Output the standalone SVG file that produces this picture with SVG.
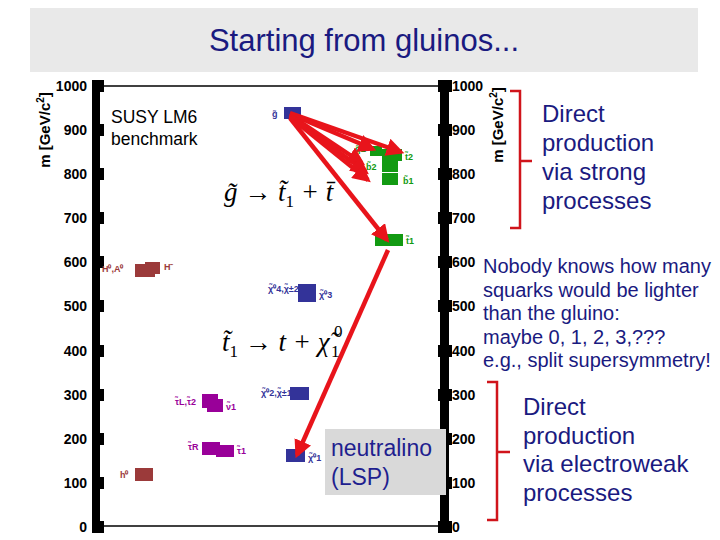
<svg xmlns="http://www.w3.org/2000/svg" width="720" height="540" viewBox="0 0 720 540">
<defs>
<style>
.s{font-family:"Liberation Sans",Arial,sans-serif}
.tk{font-family:"Liberation Sans",Arial,sans-serif;font-size:14px;font-weight:bold;fill:#000}
.eq{font-family:"Liberation Serif","Times New Roman",serif;font-size:27px;font-style:italic;fill:#000}
.sub{font-family:"Liberation Serif","Times New Roman",serif;font-size:17px;fill:#000}
.lb{font-family:"Liberation Sans",Arial,sans-serif;font-size:9px;font-weight:bold}
.arr{stroke:#e8141b;stroke-width:4.5;fill:none;marker-end:url(#ah)}
.br{stroke:#d0141b;stroke-width:2.5;fill:none}
</style>
<marker id="ah" viewBox="0 0 10 10" refX="8" refY="5" markerWidth="4" markerHeight="4" orient="auto"><path d="M0,0L10,5L0,10z" fill="#e8141b"/></marker>
</defs>
<rect width="720" height="540" fill="#fff"/>
<g id="title"><rect x="30" y="8" width="668" height="64" fill="#e9e9e9"/>
<text x="364" y="51" text-anchor="middle" class="s" font-size="31" fill="#1a1a80">Starting from gluinos...</text></g>
<g id="axes">
<line x1="98" y1="86" x2="446" y2="86" stroke="#000" stroke-width="1.5"/>
<line x1="98" y1="526" x2="446" y2="526" stroke="#000" stroke-width="1.5"/>
<rect x="92" y="82" width="8" height="450" fill="#000"/>
<rect x="440" y="82" width="9" height="450" fill="#000"/>
<g fill="#000">
<rect x="92" y="80" width="12" height="12"/><rect x="92" y="124" width="12" height="12"/><rect x="92" y="168" width="12" height="12"/><rect x="92" y="212" width="12" height="12"/><rect x="92" y="256" width="12" height="12"/><rect x="92" y="300" width="12" height="12"/><rect x="92" y="345" width="12" height="12"/><rect x="92" y="389" width="12" height="12"/><rect x="92" y="433" width="12" height="12"/><rect x="92" y="477" width="12" height="12"/><rect x="92" y="521" width="12" height="12"/>
<rect x="438" y="80" width="14" height="12"/><rect x="438" y="124" width="14" height="12"/><rect x="438" y="168" width="14" height="12"/><rect x="438" y="212" width="14" height="12"/><rect x="438" y="256" width="14" height="12"/><rect x="438" y="300" width="14" height="12"/><rect x="438" y="345" width="14" height="12"/><rect x="438" y="389" width="14" height="12"/><rect x="438" y="433" width="14" height="12"/><rect x="438" y="477" width="14" height="12"/><rect x="438" y="521" width="14" height="12"/>
</g>
<g class="tk" text-anchor="end">
<text x="87" y="91">1000</text><text x="87" y="135">900</text><text x="87" y="179">800</text><text x="87" y="223">700</text><text x="87" y="267">600</text><text x="87" y="311">500</text><text x="87" y="356">400</text><text x="87" y="400">300</text><text x="87" y="444">200</text><text x="87" y="488">100</text><text x="87" y="532">0</text>
</g>
<g class="tk">
<text x="452" y="91">1000</text><text x="452" y="135">900</text><text x="452" y="179">800</text><text x="452" y="223">700</text><text x="452" y="267">600</text><text x="452" y="311">500</text><text x="452" y="356">400</text><text x="452" y="400">300</text><text x="452" y="444">200</text><text x="452" y="488">100</text><text x="452" y="532">0</text>
</g>
<text transform="translate(50,130) rotate(-90)" text-anchor="middle" class="s" font-size="15" font-weight="bold">m [GeV/c<tspan font-size="10" dy="-6">2</tspan><tspan dy="6">]</tspan></text>
<text transform="translate(503,125) rotate(-90)" text-anchor="middle" class="s" font-size="15" font-weight="bold">m [GeV/c<tspan font-size="10" dy="-6">2</tspan><tspan dy="6">]</tspan></text>
<text x="111" y="123" class="s" font-size="17.5">SUSY LM6</text>
<text x="111" y="145" class="s" font-size="17.5">benchmark</text>
</g>
<g id="higgs" fill="#9b3a3a">
<rect x="135" y="264" width="20" height="13"/><rect x="145" y="262" width="15" height="12"/>
<text x="102" y="272" class="lb">H⁰,A⁰</text><text x="164" y="270" class="lb">H⁻</text>
<rect x="135" y="468" width="18" height="13"/><text x="120" y="478" class="lb">h⁰</text>
</g>
<g id="sleptons" fill="#990099">
<rect x="202" y="394" width="16" height="14"/><rect x="207" y="399" width="16" height="13"/>
<text x="175" y="405" class="lb">τ̃L,τ̃2</text><text x="226" y="410" class="lb" font-size="7">ν̃1</text>
<rect x="202" y="442" width="18" height="13"/><rect x="216" y="445" width="18" height="12"/>
<text x="188" y="450" class="lb">τ̃R</text><text x="237" y="454" class="lb" font-size="7">τ̃1</text>
</g>
<g id="gauginos" fill="#333399">
<rect x="284" y="107" width="17" height="12"/><text x="272" y="117" class="lb">g̃</text>
<rect x="298" y="284" width="18" height="18"/><text x="268" y="292" class="lb" font-size="8">χ̃⁰4,χ̃±2</text><text x="319" y="298" class="lb" font-size="8">χ̃⁰3</text>
<rect x="290" y="387" width="19" height="13"/><text x="261" y="396" class="lb" font-size="8">χ̃⁰2,χ̃±1</text>
<rect x="286" y="449" width="19" height="13"/><text x="308" y="461" class="lb" font-size="8">χ̃⁰1</text>
</g>
<g id="squarks" fill="#129a12">
<rect x="370" y="146" width="12" height="10"/><rect x="382" y="149" width="20" height="12"/><rect x="382" y="160" width="16" height="12"/><rect x="382" y="173" width="16" height="12"/>
<rect x="375" y="234" width="28" height="12"/>
<text x="355" y="152" class="lb">q̃L</text><text x="405" y="160" class="lb">t̃2</text><text x="366" y="170" class="lb">b̃2</text><text x="403" y="184" class="lb">b̃1</text><text x="406" y="244" class="lb">t̃1</text>
</g>
<g id="connectors">
<path class="arr" d="M290,113L401,152"/>
<path class="arr" d="M290,114L373,149"/>
<path class="arr" d="M290,115L362,163"/>
<path class="arr" d="M290,116L366,172"/>
<path class="arr" d="M290,117L368,180"/>
<path class="arr" d="M290,118L387,240"/>
<path class="arr" d="M388,250L297,455"/>
</g>
<g id="equations">
<text x="224" y="201" class="eq">g̃ → t̃<tspan font-size="17" dy="6" font-style="normal">1</tspan><tspan dy="-6"> + t̄</tspan></text>
<text x="222" y="351" class="eq">t̃<tspan font-size="17" dy="6" font-style="normal">1</tspan><tspan dy="-6"> → t + χ̃</tspan></text>
<text x="334" y="337" class="sub">0</text>
<text x="331" y="357" class="sub">1</text>
</g>
<g id="lsp"><rect x="325" y="429" width="121" height="66" fill="#d9d9d9"/>
<text x="331" y="456" class="s" font-size="23" fill="#1f1f8f">neutralino</text>
<text x="331" y="485" class="s" font-size="23" fill="#1f1f8f">(LSP)</text></g>
<g id="notes">
<path class="br" d="M510,91H520V228H510M520,161H532"/>
<text class="s" font-size="24" fill="#1a1a80"><tspan x="542" y="122">Direct</tspan><tspan x="542" y="151">production</tspan><tspan x="542" y="180">via strong</tspan><tspan x="542" y="209">processes</tspan></text>
<text class="s" font-size="20" fill="#1a1a80"><tspan x="483" y="273">Nobody knows how many</tspan><tspan x="483" y="297">squarks would be lighter</tspan><tspan x="483" y="320">than the gluino:</tspan><tspan x="483" y="344">maybe 0, 1, 2, 3,???</tspan><tspan x="483" y="367">e.g., split supersymmetry!</tspan></text>
<path class="br" d="M487,382H497V520H487M497,452H510"/>
<text class="s" font-size="24" fill="#1a1a80"><tspan x="523" y="415">Direct</tspan><tspan x="523" y="444">production</tspan><tspan x="523" y="472">via electroweak</tspan><tspan x="523" y="501">processes</tspan></text>
</g>
</svg>
